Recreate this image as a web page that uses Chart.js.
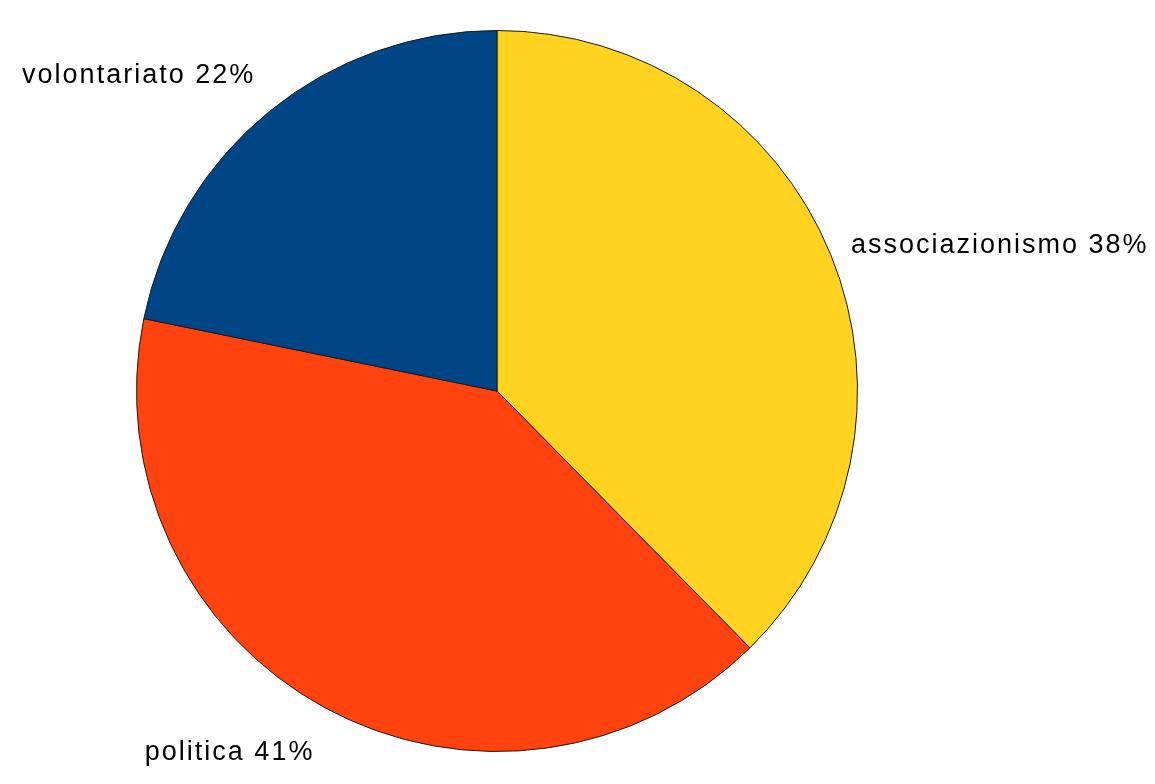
<!DOCTYPE html>
<html>
<head>
<meta charset="utf-8">
<script src="https://cdn.jsdelivr.net/npm/chart.js@4/dist/chart.umd.min.js"></script>
<style>
  html, body { margin: 0; padding: 0; background: #fff; }
  #wrap { width: 1155px; height: 784px; }
</style>
</head>
<body>
<div id="wrap"><canvas id="myChart"></canvas></div>
<script>
const categories = ['associazionismo', 'politica', 'volontariato'];
const values = [38, 41, 22];
const percentLabels = ['38%', '41%', '22%'];
const colors = ['#FFD320', '#FF420E', '#004586'];

// labels outside the slices, placed along the slice's mid angle
const outsideLabels = {
  id: 'outsideLabels',
  afterDatasetsDraw(chart) {
    const ctx = chart.ctx;
    const arcs = chart.getDatasetMeta(0).data;
    ctx.save();
    ctx.font = '27px "Liberation Sans", Arial, sans-serif';
    ctx.letterSpacing = '2px';
    ctx.fillStyle = '#000';
    arcs.forEach(function(arc, i) {
      const mid = (arc.startAngle + arc.endAngle) / 2;
      const dx = Math.cos(mid), dy = Math.sin(mid);
      const r = arc.outerRadius + 22;
      let x = arc.x + dx * r;
      let y = arc.y + dy * r;
      ctx.textAlign = dx >= 0 ? 'left' : 'right';
      if (Math.abs(dy) < 0.5) {
        ctx.textBaseline = 'middle';
      } else if (dy < 0) {
        ctx.textBaseline = 'alphabetic';
        y -= 12;
      } else {
        ctx.textBaseline = 'top';
        y += 12;
      }
      ctx.fillText(categories[i] + ' ' + percentLabels[i], x, y);
    });
    ctx.restore();
  }
};

new Chart(document.getElementById('myChart').getContext('2d'), {
  type: 'pie',
  data: {
    labels: categories,
    datasets: [{
      data: values,
      backgroundColor: colors,
      borderColor: '#1a1a1a',
      borderWidth: 1
    }]
  },
  options: {
    responsive: true,
    maintainAspectRatio: false,
    animation: false,
    layout: { padding: { top: 30, bottom: 32, left: 136, right: 297 } },
    plugins: {
      legend: { display: false },
      tooltip: { enabled: false }
    }
  },
  plugins: [outsideLabels]
});
</script>
</body>
</html>
